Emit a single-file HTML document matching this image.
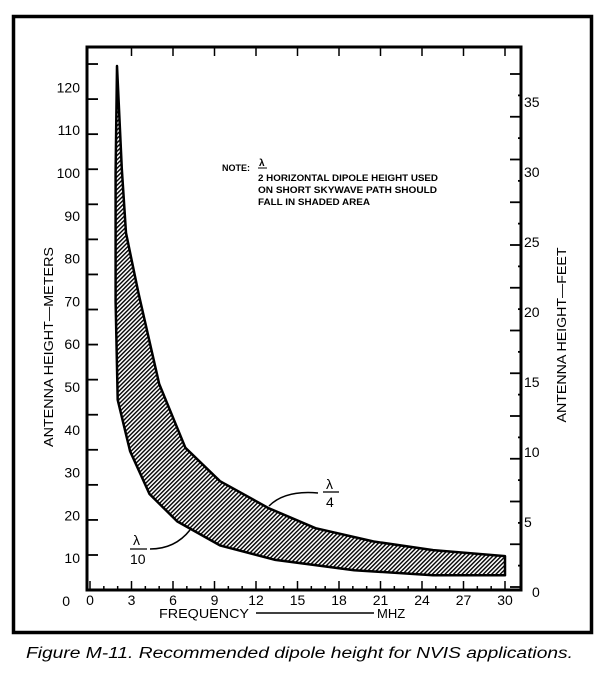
<!DOCTYPE html>
<html><head><meta charset="utf-8"><style>
html,body{margin:0;padding:0;background:#fff}
svg{display:block;font-family:"Liberation Sans",sans-serif}
</style></head><body>
<svg id="chart" width="610" height="679" viewBox="0 0 610 679">
<defs>
<pattern id="hatch" width="3" height="3" patternUnits="userSpaceOnUse" patternTransform="rotate(45)">
<rect width="3" height="3" fill="#fff"/>
<rect width="1.4" height="3" fill="#000"/>
</pattern>
</defs>
<rect x="13.5" y="16.5" width="578" height="616" fill="none" stroke="#000" stroke-width="3.5"/>
<g id="ticks"></g>
<g id="band"></g>
<rect x="87" y="47" width="434" height="543" fill="none" stroke="#000" stroke-width="3"/>
<g id="labels" font-size="14"></g>
<text transform="translate(53,347) rotate(-90)" text-anchor="middle" font-size="13" textLength="200" lengthAdjust="spacingAndGlyphs">ANTENNA HEIGHT—METERS</text>
<text transform="translate(566,335) rotate(-90)" text-anchor="middle" font-size="13" textLength="175" lengthAdjust="spacingAndGlyphs">ANTENNA HEIGHT—FEET</text>
<text x="159" y="618" font-size="13" textLength="90" lengthAdjust="spacingAndGlyphs">FREQUENCY</text>
<line x1="256" y1="613" x2="374" y2="613" stroke="#000" stroke-width="1.5"/>
<text x="377" y="618" font-size="13">MHZ</text>
<g font-size="9" font-weight="bold">
<text x="222" y="171">NOTE:</text>
<text x="259" y="166" font-size="10">λ</text>
<line x1="258" y1="168" x2="267" y2="168" stroke="#000" stroke-width="1"/>
<text x="258" y="181" textLength="180" lengthAdjust="spacingAndGlyphs">2 HORIZONTAL DIPOLE HEIGHT USED</text>
<text x="258" y="193" textLength="179" lengthAdjust="spacingAndGlyphs">ON SHORT SKYWAVE PATH SHOULD</text>
<text x="258" y="205" textLength="112" lengthAdjust="spacingAndGlyphs">FALL IN SHADED AREA</text>
</g>
<g font-size="14">
<text x="326" y="489">λ</text>
<line x1="323" y1="492" x2="339" y2="492" stroke="#000" stroke-width="1.3"/>
<text x="326" y="507">4</text>
<path d="M269,506 Q285,490 318,493" fill="none" stroke="#000" stroke-width="1.5"/>
</g>
<g font-size="14">
<text x="133" y="545">λ</text>
<line x1="130" y1="549" x2="147" y2="549" stroke="#000" stroke-width="1.3"/>
<text x="130" y="564">10</text>
<path d="M150,549 Q175,549 190,530" fill="none" stroke="#000" stroke-width="1.5"/>
</g>
<text x="26" y="658" font-size="15.5" font-style="italic" textLength="547" lengthAdjust="spacingAndGlyphs">Figure M-11. Recommended dipole height for NVIS applications.</text>
</svg>
<script>
const freqLower = [1.95, 1.85, 1.85, 2.0, 2.9, 4.3, 6.3, 9.4, 13.4, 19.1, 24.8, 30];
const heightLower = [125, 100, 70, 47, 35, 25, 18.6, 13, 9.6, 7.2, 6, 6];
const freqUpper = [1.95, 2.3, 2.6, 3.5, 5.0, 6.9, 9.4, 12.9, 16.3, 20.5, 24.8, 30];
const heightUpper = [125, 101, 86, 72, 50.7, 35.8, 28, 21.7, 17, 13.9, 11.9, 10.5];
const xTickLabels = [0, 3, 6, 9, 12, 15, 18, 21, 24, 27, 30];
const meterLabels = [0, 10, 20, 30, 40, 50, 60, 70, 80, 90, 100, 110, 120];
const feetLabels = [0, 5, 10, 15, 20, 25, 30, 35];

const NS = 'http://www.w3.org/2000/svg';
const xScale = f => 90 + f * (415 / 30);
const yScale = m => 601 - m * 4.28;
const feetScale = ft => 592 - ft * 14;

function mk(tag, attrs, parent) {
  const e = document.createElementNS(NS, tag);
  for (const k in attrs) e.setAttribute(k, attrs[k]);
  parent.appendChild(e);
  return e;
}
const band = document.getElementById('band');
const ticks = document.getElementById('ticks');
const labels = document.getElementById('labels');

// band polygon
let pts = [];
for (let i = 0; i < freqUpper.length; i++) pts.push(xScale(freqUpper[i]).toFixed(1) + ',' + yScale(heightUpper[i]).toFixed(1));
for (let i = freqLower.length - 1; i >= 0; i--) pts.push(xScale(freqLower[i]).toFixed(1) + ',' + yScale(heightLower[i]).toFixed(1));
const poly = mk('polygon', {points: pts.join(' '), fill: 'url(#hatch)', stroke: '#000', 'stroke-width': 2.5, 'stroke-linejoin': 'round'}, band);



// x ticks
for (let f = 0; f <= 30; f++) {
  const x = xScale(f);
  const major = f % 3 === 0;
  const t = mk('line', {x1: x, y1: 590, x2: x, y2: 590 - (major ? 9 : 4), stroke: '#000', 'stroke-width': 1.5}, ticks);
  
  
  if (major && f > 0) {
    const tt = mk('line', {x1: x, y1: 47, x2: x, y2: 56, stroke: '#000', 'stroke-width': 1.5}, ticks);
    
    
  }
}
xTickLabels.forEach(v => {
  const t = mk('text', {x: xScale(v), y: 605, 'text-anchor': 'middle'}, labels);
  t.textContent = v;
  
  
});
// left ticks
for (let i = 0; i <= 14; i++) {
  const y = 555 - i * 35.07;
  const t = mk('line', {x1: 87, y1: y, x2: 98, y2: y, stroke: '#000', 'stroke-width': 1.8}, ticks);
  
  
}
meterLabels.forEach(v => {
  const t = mk('text', {x: v === 0 ? 70 : 80, y: yScale(v) + 5, 'text-anchor': 'end'}, labels);
  t.textContent = v;
  
  
});
// right ticks
for (let k = 0; k <= 24; k++) {
  const y = 587 - k * 21.375;
  const major = k % 2 === 0;
  const t = mk('line', {x1: 521, y1: y, x2: major ? 510 : 518, y2: y, stroke: '#000', 'stroke-width': 1.8}, ticks);
  
  
}
feetLabels.forEach(v => {
  const t = mk('text', {x: v === 0 ? 532 : 524, y: feetScale(v) + 5}, labels);
  t.textContent = v;
  
  
});
</script>
</body></html>
